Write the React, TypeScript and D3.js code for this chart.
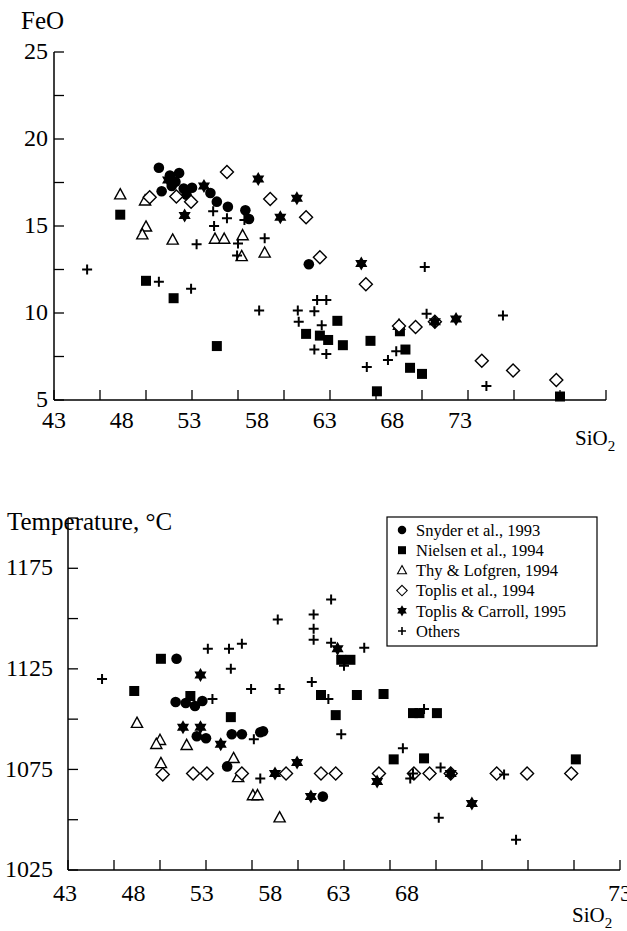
import React from "react";
import * as d3 from "d3";

// ---------- data: top panel (SiO2 vs FeO) ----------
const snyderTop: [number, number][] = [
  [48.7, 18.35], [48.85, 17.0], [49.3, 17.9], [49.8, 18.05], [49.6, 17.55], [49.4, 17.3],
  [50.05, 17.15], [50.5, 17.2], [50.2, 16.8], [51.5, 16.9], [51.85, 16.4], [52.45, 16.1],
  [53.4, 15.9], [53.6, 15.4], [56.85, 12.8],
];
const nielsenTop: [number, number][] = [
  [46.6, 15.65], [48.0, 11.85], [49.5, 10.85], [51.85, 8.1], [56.7, 8.8], [57.45, 8.7],
  [57.9, 8.45], [58.4, 9.55], [58.7, 8.15], [60.2, 8.4], [61.8, 8.95], [62.1, 7.9],
  [62.35, 6.85], [63.0, 6.5], [60.55, 5.5], [70.5, 5.2],
];
const thyTop: [number, number][] = [
  [46.6, 16.8], [47.95, 16.45], [48.0, 14.95], [47.8, 14.5], [49.45, 14.2], [51.75, 14.25],
  [52.25, 14.25], [53.25, 14.45], [53.2, 13.25], [54.45, 13.45], [61.75, 9.3],
];
const toplisTop: [number, number][] = [
  [52.4, 18.1], [48.2, 16.65], [49.65, 16.7], [50.45, 16.4], [54.75, 16.55], [56.7, 15.5],
  [57.45, 13.2], [59.95, 11.65], [61.75, 9.25], [62.65, 9.2], [63.7, 9.5], [66.25, 7.25],
  [67.95, 6.7], [70.3, 6.15],
];
const carrollTop: [number, number][] = [
  [49.2, 17.65], [51.15, 17.3], [50.1, 15.6], [54.1, 17.7], [56.2, 16.6], [55.3, 15.5],
  [59.7, 12.85], [63.7, 9.5], [64.85, 9.65],
];
const othersTop: [number, number][] = [
  [51.65, 15.85], [51.7, 15.0], [52.4, 15.45], [53.35, 15.35], [50.75, 13.95], [53.0, 14.0],
  [52.95, 13.3], [44.8, 12.5], [54.45, 14.3], [63.15, 12.65], [48.7, 11.8], [50.45, 11.4],
  [54.15, 10.15], [56.25, 10.15], [56.3, 9.5], [57.15, 10.1], [57.3, 10.75], [57.8, 10.75],
  [57.55, 9.3], [57.15, 7.9], [57.8, 7.65], [60.0, 6.9], [61.15, 7.3], [61.6, 7.8],
  [63.25, 9.95], [67.4, 9.85], [66.5, 5.8],
];

// ---------- data: bottom panel (SiO2 vs Temperature) ----------
const snyderBot: [number, number][] = [
  [48.9, 1130], [48.85, 1108.5], [49.4, 1108], [49.9, 1106.5], [50.3, 1109], [50.0, 1091.5],
  [50.5, 1090.5], [51.9, 1092.5], [52.45, 1092.5], [53.45, 1093.5], [53.6, 1094],
  [51.65, 1076.5], [56.85, 1061.5],
];
const nielsenBot: [number, number][] = [
  [46.6, 1114], [48.05, 1130], [49.65, 1111.5], [51.85, 1101], [56.75, 1112], [58.7, 1112],
  [60.15, 1112.5], [57.55, 1102], [60.7, 1080], [62.35, 1080.5], [61.75, 1103], [62.1, 1103],
  [63.05, 1103], [57.85, 1129.5], [58.35, 1129.5], [70.6, 1080],
];
const thyBot: [number, number][] = [
  [46.75, 1098], [48.0, 1089.5], [47.8, 1087.5], [49.45, 1087], [48.05, 1078], [52.0, 1080.5],
  [52.25, 1071], [53.05, 1062], [53.3, 1062], [54.5, 1051],
];
const toplisBot: [number, number][] = [
  [48.15, 1072.5], [49.8, 1073], [50.55, 1073], [52.45, 1073], [54.85, 1073], [56.75, 1073],
  [57.55, 1073], [59.9, 1073], [61.8, 1073], [62.65, 1073], [63.8, 1073], [66.3, 1073],
  [67.95, 1073], [70.35, 1073],
];
const carrollBot: [number, number][] = [
  [50.2, 1122], [49.25, 1096], [50.2, 1096], [51.3, 1087.5], [54.25, 1073], [55.45, 1078.5],
  [56.2, 1061.5], [59.8, 1069], [57.65, 1135], [63.8, 1073], [64.95, 1058],
];
const othersBot: [number, number][] = [
  [44.85, 1120], [50.6, 1135], [51.75, 1135], [52.45, 1137.5], [51.85, 1125], [52.95, 1115],
  [50.85, 1110], [53.1, 1090], [53.45, 1070.5], [54.4, 1149.5], [56.35, 1152], [56.35, 1145],
  [56.35, 1139.5], [57.3, 1159.5], [57.3, 1138], [59.1, 1135.5], [56.25, 1118.5], [54.5, 1115],
  [57.15, 1110], [57.85, 1092.5], [61.2, 1085.5], [62.35, 1105], [61.75, 1073], [61.6, 1070.5],
  [63.15, 1051], [63.25, 1076], [66.7, 1072.5], [67.35, 1040], [58.0, 1126.5],
];

const legendLabels = [
  "Snyder et al., 1993",
  "Nielsen et al., 1994",
  "Thy & Lofgren, 1994",
  "Toplis et al., 1994",
  "Toplis & Carroll, 1995",
  "Others",
];
const seriesKinds = ["circle", "square", "triangle", "diamond", "star", "plus"];

const xTickValues = d3.range(43, 73.01, 2.5);
const xLabelValues = [43, 48, 53, 58, 63, 68, 73];
const feoTicks = d3.range(5, 25.01, 2.5);
const feoLabels = [5, 10, 15, 20, 25];
const tTicks = d3.range(1025, 1200.1, 25);
const tLabels = [1025, 1075, 1125, 1175];

const FONT = "Liberation Serif, Times New Roman, Times, serif";

function Marker({ kind, x, y, s = 1 }: { kind: string; x: number; y: number; s?: number }) {
  const t = `translate(${x},${y}) scale(${s})`;
  switch (kind) {
    case "circle":
      return <circle cx={x} cy={y} r={5.3 * s} fill="#000" />;
    case "square":
      return <rect x={x - 5 * s} y={y - 5 * s} width={10 * s} height={10 * s} fill="#000" />;
    case "triangle":
      return (
        <path transform={t} d="M0,-6 L5.6,4.2 L-5.6,4.2 Z" fill="#fff" stroke="#000" strokeWidth={1.4} />
      );
    case "diamond":
      return (
        <path transform={t} d="M0,-6.5 L6.5,0 L0,6.5 L-6.5,0 Z" fill="#fff" stroke="#000" strokeWidth={1.4} />
      );
    case "star": {
      const r = 7;
      const tri = (o: number) =>
        d3.range(3).map((i) => {
          const a = o + (i * 2 * Math.PI) / 3;
          return [r * Math.sin(a), -r * Math.cos(a)];
        });
      const p1 = tri(0), p2 = tri(Math.PI);
      const d =
        "M" + p1.map((p) => p.join(",")).join("L") + "Z" + "M" + p2.map((p) => p.join(",")).join("L") + "Z";
      return <path transform={t} d={d} fill="#000" />;
    }
    default:
      return (
        <path transform={t} d="M-5,0 L5,0 M0,-5 L0,5" stroke="#000" strokeWidth={2} fill="none" />
      );
  }
}

function Panel({
  x, y, series, yTicks, yLabels, labelX, yLabelEnd, xLabelOffset, yTitle, yTitlePos, xTitlePos,
}: {
  x: d3.ScaleLinear<number, number>;
  y: d3.ScaleLinear<number, number>;
  series: [number, number][][];
  yTicks: number[];
  yLabels: number[];
  labelX: (v: number) => number;
  yLabelEnd: number;
  xLabelOffset: number;
  yTitle: string;
  yTitlePos: [number, number];
  xTitlePos: [number, number];
}) {
  const [x0, x1] = x.range();
  const [y0, y1] = y.range();
  return (
    <g style={{ fontFamily: FONT }} fill="#000">
      <line x1={x0} x2={x1} y1={y0} y2={y0} stroke="#000" strokeWidth={1.5} />
      <line x1={x0} x2={x0} y1={y0} y2={y1} stroke="#000" strokeWidth={1.5} />
      {xTickValues.map((v) => (
        <line key={"xt" + v} x1={x(v)} x2={x(v)} y1={y0} y2={y0 - 10} stroke="#000" strokeWidth={1.3} />
      ))}
      {yTicks.map((v) => (
        <line key={"yt" + v} x1={x0} x2={x0 + 10} y1={y(v)} y2={y(v)} stroke="#000" strokeWidth={1.3} />
      ))}
      {xLabelValues.map((v) => (
        <text key={"xl" + v} x={labelX(v)} y={y0 + xLabelOffset} fontSize={24} textAnchor="middle">
          {v}
        </text>
      ))}
      {yLabels.map((v) => (
        <text key={"yl" + v} x={yLabelEnd} y={y(v)} dy="0.3em" fontSize={24} textAnchor="end">
          {v}
        </text>
      ))}
      <text x={yTitlePos[0]} y={yTitlePos[1]} fontSize={25}>
        {yTitle}
      </text>
      <text x={xTitlePos[0]} y={xTitlePos[1]} fontSize={21}>
        SiO<tspan fontSize={15} dy={6}>2</tspan>
      </text>
      {series.map((pts, si) =>
        pts.map((p, i) => <Marker key={si + "-" + i} kind={seriesKinds[si]} x={x(p[0])} y={y(p[1])} />)
      )}
    </g>
  );
}

export default function App() {
  const xTop = d3.scaleLinear().domain([43, 73]).range([54, 606]);
  const yTop = d3.scaleLinear().domain([5, 25]).range([400, 52]);
  const xBot = d3.scaleLinear().domain([43, 73]).range([68, 620]);
  const yBot = d3.scaleLinear().domain([1025, 1200]).range([870, 518]);

  // tick labels as typeset in the figure (compressed relative to the tick marks)
  const topLabelScale = d3.scaleLinear().domain([43, 73]).range([54, 460]);
  const botLabelScale = d3.scaleLinear().domain([43, 68]).range([65, 407]);

  const legendY = d3.scaleLinear().domain([0, 5]).range([530, 631]);

  return (
    <svg
      width={627}
      height={931}
      style={{ position: "absolute", left: 0, top: 0, background: "#fff" }}
    >
      <rect width={627} height={931} fill="#fff" />
      <Panel
        x={xTop}
        y={yTop}
        series={[snyderTop, nielsenTop, thyTop, toplisTop, carrollTop, othersTop]}
        yTicks={feoTicks}
        yLabels={feoLabels}
        labelX={(v) => topLabelScale(v)}
        yLabelEnd={48}
        xLabelOffset={28}
        yTitle="FeO"
        yTitlePos={[21, 29]}
        xTitlePos={[575, 445]}
      />
      <Panel
        x={xBot}
        y={yBot}
        series={[snyderBot, nielsenBot, thyBot, toplisBot, carrollBot, othersBot]}
        yTicks={tTicks}
        yLabels={tLabels}
        labelX={(v) => (v === 73 ? xBot(v) : botLabelScale(v))}
        yLabelEnd={53}
        xLabelOffset={31}
        yTitle="Temperature, °C"
        yTitlePos={[7, 530]}
        xTitlePos={[572, 922]}
      />
      <g style={{ fontFamily: FONT }}>
        <rect x={387} y={517} width={210} height={129} fill="#fff" stroke="#000" strokeWidth={1.2} />
        {legendLabels.map((l, i) => (
          <g key={l}>
            <Marker kind={seriesKinds[i]} x={402} y={legendY(i)} s={0.8} />
            <text x={416} y={legendY(i)} dy="0.35em" fontSize={16.5}>
              {l}
            </text>
          </g>
        ))}
      </g>
    </svg>
  );
}
